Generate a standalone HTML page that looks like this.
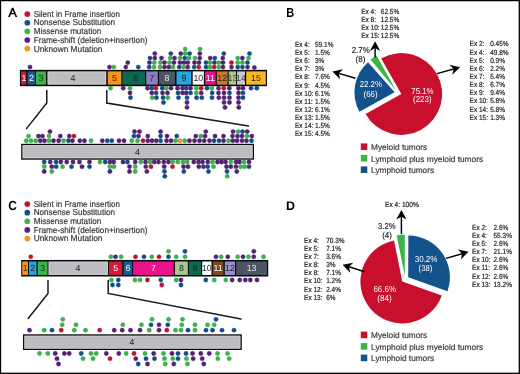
<!DOCTYPE html>
<html><head><meta charset="utf-8"><style>
html,body{margin:0;padding:0;background:#fff;}
body{width:520px;height:374px;overflow:hidden;font-family:"Liberation Sans", sans-serif;}
svg{display:block;font-family:"Liberation Sans", sans-serif;will-change:transform;text-rendering:geometricPrecision;}
</style></head><body>
<svg width="520" height="374" viewBox="0 0 520 374">
<rect width="520" height="374" fill="#fff"/>
<rect x="0.5" y="0.6" width="518.8" height="372.7" fill="none" stroke="#000" stroke-width="1.3"/>
<path d="M8.1,16.95 L11.9,7.85 L13.4,7.85 L17.2,16.95 L15.55,16.95 L14.44,14.3 L10.86,14.3 L9.75,16.95 Z M11.44,12.9 L13.86,12.9 L12.65,10.0 Z" fill="#000" fill-rule="evenodd"/>
<text x="286.3" y="16.55" font-size="13.0" fill="#000" text-anchor="start" font-weight="bold" textLength="8.0" lengthAdjust="spacingAndGlyphs">B</text>
<text x="8.2" y="210.1" font-size="13.2" fill="#000" text-anchor="start" font-weight="bold" textLength="8.6" lengthAdjust="spacingAndGlyphs">C</text>
<text x="286.0" y="210.0" font-size="12.5" fill="#000" text-anchor="start" font-weight="bold" textLength="9.0" lengthAdjust="spacingAndGlyphs">D</text>
<circle cx="27.3" cy="14.10" r="2.85" fill="#c8102e"/>
<text x="33.7" y="16.65" font-size="8.6" fill="#3a3a3c" text-anchor="start" font-weight="normal" stroke="#3a3a3c" stroke-width="0.2" textLength="86.3" lengthAdjust="spacingAndGlyphs">Silent in Frame insertion</text>
<circle cx="27.3" cy="22.73" r="2.85" fill="#0e4f8c"/>
<text x="33.7" y="25.37" font-size="8.6" fill="#3a3a3c" text-anchor="start" font-weight="normal" stroke="#3a3a3c" stroke-width="0.2" textLength="81.3" lengthAdjust="spacingAndGlyphs">Nonsense Substitution</text>
<circle cx="27.3" cy="31.36" r="2.85" fill="#39b54a"/>
<text x="33.7" y="34.09" font-size="8.6" fill="#3a3a3c" text-anchor="start" font-weight="normal" stroke="#3a3a3c" stroke-width="0.2" textLength="67.5" lengthAdjust="spacingAndGlyphs">Missense mutation</text>
<circle cx="27.3" cy="39.99" r="2.85" fill="#56207a"/>
<text x="33.7" y="42.81" font-size="8.6" fill="#3a3a3c" text-anchor="start" font-weight="normal" stroke="#3a3a3c" stroke-width="0.2" textLength="113.8" lengthAdjust="spacingAndGlyphs">Frame-shift (deletion+insertion)</text>
<circle cx="27.3" cy="48.62" r="2.85" fill="#f7941d"/>
<text x="33.7" y="51.53" font-size="8.6" fill="#3a3a3c" text-anchor="start" font-weight="normal" stroke="#3a3a3c" stroke-width="0.2" textLength="68.8" lengthAdjust="spacingAndGlyphs">Unknown Mutation</text>
<circle cx="27.3" cy="204.00" r="2.85" fill="#c8102e"/>
<text x="33.7" y="206.55" font-size="8.6" fill="#3a3a3c" text-anchor="start" font-weight="normal" stroke="#3a3a3c" stroke-width="0.2" textLength="86.3" lengthAdjust="spacingAndGlyphs">Silent in Frame insertion</text>
<circle cx="27.3" cy="212.63" r="2.85" fill="#0e4f8c"/>
<text x="33.7" y="215.27" font-size="8.6" fill="#3a3a3c" text-anchor="start" font-weight="normal" stroke="#3a3a3c" stroke-width="0.2" textLength="81.3" lengthAdjust="spacingAndGlyphs">Nonsense Substitution</text>
<circle cx="27.3" cy="221.26" r="2.85" fill="#39b54a"/>
<text x="33.7" y="223.99" font-size="8.6" fill="#3a3a3c" text-anchor="start" font-weight="normal" stroke="#3a3a3c" stroke-width="0.2" textLength="67.5" lengthAdjust="spacingAndGlyphs">Missense mutation</text>
<circle cx="27.3" cy="229.89" r="2.85" fill="#56207a"/>
<text x="33.7" y="232.71" font-size="8.6" fill="#3a3a3c" text-anchor="start" font-weight="normal" stroke="#3a3a3c" stroke-width="0.2" textLength="113.8" lengthAdjust="spacingAndGlyphs">Frame-shift (deletion+insertion)</text>
<circle cx="27.3" cy="238.52" r="2.85" fill="#f7941d"/>
<text x="33.7" y="241.43" font-size="8.6" fill="#3a3a3c" text-anchor="start" font-weight="normal" stroke="#3a3a3c" stroke-width="0.2" textLength="68.8" lengthAdjust="spacingAndGlyphs">Unknown Mutation</text>
<rect x="19.9" y="69.85" width="247.10" height="16.35" fill="#0a0a0a"/>
<rect x="21.0" y="71.40" width="5.20" height="13.25" fill="#d2193a"/>
<rect x="27.5" y="71.40" width="7.80" height="13.25" fill="#1b5a96"/>
<rect x="36.0" y="71.40" width="10.00" height="13.25" fill="#3cb64b"/>
<rect x="47.5" y="71.40" width="58.80" height="13.25" fill="#bdbdc1"/>
<rect x="48.10" y="72.05" width="57.60" height="11.95" fill="none" stroke="#d6d6da" stroke-width="0.6"/>
<rect x="107.8" y="71.40" width="13.50" height="13.25" fill="#f7941d"/>
<rect x="122.4" y="71.40" width="22.60" height="13.25" fill="#0b6b52"/>
<rect x="146.2" y="71.40" width="11.60" height="13.25" fill="#8a80c0"/>
<rect x="159.0" y="71.40" width="16.00" height="13.25" fill="#4b5665"/>
<rect x="176.5" y="71.40" width="14.80" height="13.25" fill="#27a5df"/>
<rect x="192.7" y="71.40" width="11.10" height="13.25" fill="#ffffff"/>
<rect x="205.0" y="71.40" width="10.70" height="13.25" fill="#ec118c"/>
<rect x="216.8" y="71.40" width="10.80" height="13.25" fill="#c77a2c"/>
<rect x="228.7" y="71.40" width="7.30" height="13.25" fill="#a7c98f"/>
<rect x="237.1" y="71.40" width="7.90" height="13.25" fill="#c9c9cc"/>
<rect x="246.2" y="71.40" width="19.60" height="13.25" fill="#f9b821"/>
<text x="24" y="81.12" font-size="8.8" fill="#fff" text-anchor="middle" font-weight="normal">1</text>
<text x="31.4" y="81.12" font-size="8.8" fill="#fff" text-anchor="middle" font-weight="normal">2</text>
<text x="41" y="81.12" font-size="8.8" fill="#231f20" text-anchor="middle" font-weight="normal">3</text>
<text x="73" y="81.12" font-size="8.8" fill="#231f20" text-anchor="middle" font-weight="normal">4</text>
<text x="114.5" y="81.12" font-size="8.8" fill="#231f20" text-anchor="middle" font-weight="normal">5</text>
<text x="136" y="81.12" font-size="8.8" fill="#231f20" text-anchor="middle" font-weight="normal">6</text>
<text x="152" y="81.12" font-size="8.8" fill="#231f20" text-anchor="middle" font-weight="normal">7</text>
<text x="167" y="81.12" font-size="8.8" fill="#e6e6e6" text-anchor="middle" font-weight="normal">8</text>
<text x="184" y="81.12" font-size="8.8" fill="#231f20" text-anchor="middle" font-weight="normal">9</text>
<text x="198.3" y="81.12" font-size="8.8" fill="#231f20" text-anchor="middle" font-weight="normal">10</text>
<text x="210.4" y="81.12" font-size="8.8" fill="#fff" text-anchor="middle" font-weight="normal">11</text>
<text x="222.2" y="81.12" font-size="8.8" fill="#231f20" text-anchor="middle" font-weight="normal">12</text>
<text x="232.4" y="81.12" font-size="8.8" fill="#444" text-anchor="middle" font-weight="normal">13</text>
<text x="241" y="81.12" font-size="8.8" fill="#444" text-anchor="middle" font-weight="normal">14</text>
<text x="256" y="81.12" font-size="8.8" fill="#231f20" text-anchor="middle" font-weight="normal">15</text>
<rect x="21.2" y="259.95" width="247.00" height="16.55" fill="#0a0a0a"/>
<rect x="22.2" y="261.50" width="5.80" height="13.45" fill="#f7941d"/>
<rect x="29.0" y="261.50" width="7.50" height="13.45" fill="#27a5df"/>
<rect x="37.8" y="261.50" width="9.70" height="13.45" fill="#3cb64b"/>
<rect x="48.5" y="261.50" width="59.50" height="13.45" fill="#bdbdc1"/>
<rect x="49.10" y="262.15" width="58.30" height="12.15" fill="none" stroke="#d6d6da" stroke-width="0.6"/>
<rect x="109.0" y="261.50" width="13.20" height="13.45" fill="#d2193a"/>
<rect x="123.5" y="261.50" width="8.70" height="13.45" fill="#1b5a96"/>
<rect x="133.2" y="261.50" width="40.60" height="13.45" fill="#ec118c"/>
<rect x="175.0" y="261.50" width="12.80" height="13.45" fill="#a7c98f"/>
<rect x="188.8" y="261.50" width="12.20" height="13.45" fill="#0b6b52"/>
<rect x="202.2" y="261.50" width="9.30" height="13.45" fill="#ffffff"/>
<rect x="212.8" y="261.50" width="10.70" height="13.45" fill="#7b4b1f"/>
<rect x="224.8" y="261.50" width="10.20" height="13.45" fill="#9a8fd2"/>
<rect x="236.2" y="261.50" width="30.80" height="13.45" fill="#4b5665"/>
<text x="25.1" y="271.33" font-size="8.8" fill="#231f20" text-anchor="middle" font-weight="normal">1</text>
<text x="32.7" y="271.33" font-size="8.8" fill="#231f20" text-anchor="middle" font-weight="normal">2</text>
<text x="42.6" y="271.33" font-size="8.8" fill="#231f20" text-anchor="middle" font-weight="normal">3</text>
<text x="78" y="271.33" font-size="8.8" fill="#231f20" text-anchor="middle" font-weight="normal">4</text>
<text x="115.6" y="271.33" font-size="8.8" fill="#fff" text-anchor="middle" font-weight="normal">5</text>
<text x="127.9" y="271.33" font-size="8.8" fill="#fff" text-anchor="middle" font-weight="normal">6</text>
<text x="153.5" y="271.33" font-size="8.8" fill="#fff" text-anchor="middle" font-weight="normal">7</text>
<text x="181.4" y="271.33" font-size="8.8" fill="#231f20" text-anchor="middle" font-weight="normal">8</text>
<text x="195" y="271.33" font-size="8.8" fill="#231f20" text-anchor="middle" font-weight="normal">9</text>
<text x="206.8" y="271.33" font-size="8.8" fill="#231f20" text-anchor="middle" font-weight="normal">10</text>
<text x="218.1" y="271.33" font-size="8.8" fill="#fff" text-anchor="middle" font-weight="normal">11</text>
<text x="229.9" y="271.33" font-size="8.8" fill="#231f20" text-anchor="middle" font-weight="normal">12</text>
<text x="251.6" y="271.33" font-size="8.8" fill="#e6e6e6" text-anchor="middle" font-weight="normal">13</text>
<rect x="21.90" y="144.50" width="231.40" height="14.50" fill="#bdbdc1" stroke="#0a0a0a" stroke-width="1.4"/>
<rect x="23.05" y="145.65" width="229.10" height="12.20" fill="none" stroke="#d6d6da" stroke-width="0.7"/>
<text x="137.5" y="154.85" font-size="8.6" fill="#231f20" text-anchor="middle" font-weight="normal">4</text>
<rect x="23.70" y="335.00" width="217.40" height="14.30" fill="#bdbdc1" stroke="#0a0a0a" stroke-width="1.4"/>
<rect x="24.85" y="336.15" width="215.10" height="12.00" fill="none" stroke="#d6d6da" stroke-width="0.7"/>
<text x="132.0" y="345.25" font-size="8.6" fill="#231f20" text-anchor="middle" font-weight="normal">4</text>
<polyline points="46.8,90.4 46.8,103 26.5,128.6" fill="none" stroke="#1a1a1a" stroke-width="1.5" stroke-linecap="round"/>
<polyline points="106.8,90.4 106.8,103 248.5,126.1" fill="none" stroke="#1a1a1a" stroke-width="1.5" stroke-linecap="round"/>
<polyline points="48.0,280.4 48.0,293.5 28.2,318.5" fill="none" stroke="#1a1a1a" stroke-width="1.5" stroke-linecap="round"/>
<polyline points="108.2,280.4 108.2,293.5 241,319" fill="none" stroke="#1a1a1a" stroke-width="1.5" stroke-linecap="round"/>
<circle cx="30" cy="67.1" r="2.15" fill="#56207a" stroke="#3a1054" stroke-width="0.35"/>
<circle cx="109.5" cy="67.1" r="2.15" fill="#56207a" stroke="#3a1054" stroke-width="0.35"/>
<circle cx="113.8" cy="67.1" r="2.15" fill="#39b54a" stroke="#268f36" stroke-width="0.35"/>
<circle cx="125.8" cy="67.1" r="2.15" fill="#56207a" stroke="#3a1054" stroke-width="0.35"/>
<circle cx="127.8" cy="62.6" r="2.15" fill="#56207a" stroke="#3a1054" stroke-width="0.35"/>
<circle cx="138.3" cy="67.1" r="2.15" fill="#0e4f8c" stroke="#093c6c" stroke-width="0.35"/>
<circle cx="149.2" cy="67.1" r="2.15" fill="#0e4f8c" stroke="#093c6c" stroke-width="0.35"/>
<circle cx="154" cy="67.1" r="2.15" fill="#39b54a" stroke="#268f36" stroke-width="0.35"/>
<circle cx="160" cy="67.1" r="2.15" fill="#39b54a" stroke="#268f36" stroke-width="0.35"/>
<circle cx="164.5" cy="67.1" r="2.15" fill="#56207a" stroke="#3a1054" stroke-width="0.35"/>
<circle cx="168.8" cy="67.1" r="2.15" fill="#56207a" stroke="#3a1054" stroke-width="0.35"/>
<circle cx="173" cy="67.1" r="2.15" fill="#39b54a" stroke="#268f36" stroke-width="0.35"/>
<circle cx="179.2" cy="67.1" r="2.15" fill="#0e4f8c" stroke="#093c6c" stroke-width="0.35"/>
<circle cx="183.5" cy="67.1" r="2.15" fill="#39b54a" stroke="#268f36" stroke-width="0.35"/>
<circle cx="187.8" cy="67.1" r="2.15" fill="#56207a" stroke="#3a1054" stroke-width="0.35"/>
<circle cx="149.5" cy="62.6" r="2.15" fill="#56207a" stroke="#3a1054" stroke-width="0.35"/>
<circle cx="154.3" cy="62.6" r="2.15" fill="#39b54a" stroke="#268f36" stroke-width="0.35"/>
<circle cx="160.5" cy="62.6" r="2.15" fill="#39b54a" stroke="#268f36" stroke-width="0.35"/>
<circle cx="164.5" cy="62.6" r="2.15" fill="#56207a" stroke="#3a1054" stroke-width="0.35"/>
<circle cx="169.5" cy="62.6" r="2.15" fill="#39b54a" stroke="#268f36" stroke-width="0.35"/>
<circle cx="174" cy="62.6" r="2.15" fill="#56207a" stroke="#3a1054" stroke-width="0.35"/>
<circle cx="180" cy="62.6" r="2.15" fill="#56207a" stroke="#3a1054" stroke-width="0.35"/>
<circle cx="184" cy="62.6" r="2.15" fill="#56207a" stroke="#3a1054" stroke-width="0.35"/>
<circle cx="187.8" cy="62.6" r="2.15" fill="#56207a" stroke="#3a1054" stroke-width="0.35"/>
<circle cx="150" cy="58.1" r="2.15" fill="#0e4f8c" stroke="#093c6c" stroke-width="0.35"/>
<circle cx="154.8" cy="58.1" r="2.15" fill="#56207a" stroke="#3a1054" stroke-width="0.35"/>
<circle cx="161.5" cy="58.1" r="2.15" fill="#56207a" stroke="#3a1054" stroke-width="0.35"/>
<circle cx="170.2" cy="58.1" r="2.15" fill="#39b54a" stroke="#268f36" stroke-width="0.35"/>
<circle cx="174.5" cy="58.1" r="2.15" fill="#56207a" stroke="#3a1054" stroke-width="0.35"/>
<circle cx="180" cy="58.1" r="2.15" fill="#39b54a" stroke="#268f36" stroke-width="0.35"/>
<circle cx="184.8" cy="58.1" r="2.15" fill="#0e4f8c" stroke="#093c6c" stroke-width="0.35"/>
<circle cx="189" cy="58.1" r="2.15" fill="#39b54a" stroke="#268f36" stroke-width="0.35"/>
<circle cx="154.8" cy="53.6" r="2.15" fill="#56207a" stroke="#3a1054" stroke-width="0.35"/>
<circle cx="170.8" cy="53.6" r="2.15" fill="#0e4f8c" stroke="#093c6c" stroke-width="0.35"/>
<circle cx="180.8" cy="53.6" r="2.15" fill="#56207a" stroke="#3a1054" stroke-width="0.35"/>
<circle cx="185.2" cy="53.6" r="2.15" fill="#39b54a" stroke="#268f36" stroke-width="0.35"/>
<circle cx="189.6" cy="53.6" r="2.15" fill="#0e4f8c" stroke="#093c6c" stroke-width="0.35"/>
<circle cx="185.2" cy="49.1" r="2.15" fill="#39b54a" stroke="#268f36" stroke-width="0.35"/>
<circle cx="194.2" cy="67.1" r="2.15" fill="#0e4f8c" stroke="#093c6c" stroke-width="0.35"/>
<circle cx="198.8" cy="67.1" r="2.15" fill="#c8102e" stroke="#900a22" stroke-width="0.35"/>
<circle cx="206" cy="67.1" r="2.15" fill="#0e4f8c" stroke="#093c6c" stroke-width="0.35"/>
<circle cx="210" cy="67.1" r="2.15" fill="#39b54a" stroke="#268f36" stroke-width="0.35"/>
<circle cx="214.2" cy="67.1" r="2.15" fill="#c8102e" stroke="#900a22" stroke-width="0.35"/>
<circle cx="218.8" cy="67.1" r="2.15" fill="#39b54a" stroke="#268f36" stroke-width="0.35"/>
<circle cx="223" cy="67.1" r="2.15" fill="#56207a" stroke="#3a1054" stroke-width="0.35"/>
<circle cx="231.5" cy="67.1" r="2.15" fill="#56207a" stroke="#3a1054" stroke-width="0.35"/>
<circle cx="237.7" cy="67.1" r="2.15" fill="#0e4f8c" stroke="#093c6c" stroke-width="0.35"/>
<circle cx="194.5" cy="62.6" r="2.15" fill="#56207a" stroke="#3a1054" stroke-width="0.35"/>
<circle cx="199" cy="62.6" r="2.15" fill="#56207a" stroke="#3a1054" stroke-width="0.35"/>
<circle cx="206" cy="62.6" r="2.15" fill="#0e4f8c" stroke="#093c6c" stroke-width="0.35"/>
<circle cx="210" cy="62.6" r="2.15" fill="#39b54a" stroke="#268f36" stroke-width="0.35"/>
<circle cx="214.5" cy="62.6" r="2.15" fill="#56207a" stroke="#3a1054" stroke-width="0.35"/>
<circle cx="218.8" cy="62.6" r="2.15" fill="#39b54a" stroke="#268f36" stroke-width="0.35"/>
<circle cx="223" cy="62.6" r="2.15" fill="#56207a" stroke="#3a1054" stroke-width="0.35"/>
<circle cx="231.5" cy="62.6" r="2.15" fill="#c8102e" stroke="#900a22" stroke-width="0.35"/>
<circle cx="237.7" cy="62.6" r="2.15" fill="#39b54a" stroke="#268f36" stroke-width="0.35"/>
<circle cx="195" cy="58.1" r="2.15" fill="#39b54a" stroke="#268f36" stroke-width="0.35"/>
<circle cx="199.8" cy="58.1" r="2.15" fill="#56207a" stroke="#3a1054" stroke-width="0.35"/>
<circle cx="210.2" cy="58.1" r="2.15" fill="#56207a" stroke="#3a1054" stroke-width="0.35"/>
<circle cx="214.8" cy="58.1" r="2.15" fill="#0e4f8c" stroke="#093c6c" stroke-width="0.35"/>
<circle cx="222.8" cy="58.1" r="2.15" fill="#56207a" stroke="#3a1054" stroke-width="0.35"/>
<circle cx="237.7" cy="58.1" r="2.15" fill="#39b54a" stroke="#268f36" stroke-width="0.35"/>
<circle cx="199.8" cy="53.6" r="2.15" fill="#56207a" stroke="#3a1054" stroke-width="0.35"/>
<circle cx="223.8" cy="53.6" r="2.15" fill="#0e4f8c" stroke="#093c6c" stroke-width="0.35"/>
<circle cx="200" cy="49.1" r="2.15" fill="#39b54a" stroke="#268f36" stroke-width="0.35"/>
<circle cx="242.4" cy="67.1" r="2.15" fill="#0e4f8c" stroke="#093c6c" stroke-width="0.35"/>
<circle cx="247.5" cy="67.1" r="2.15" fill="#56207a" stroke="#3a1054" stroke-width="0.35"/>
<circle cx="242.4" cy="62.6" r="2.15" fill="#39b54a" stroke="#268f36" stroke-width="0.35"/>
<circle cx="247.5" cy="62.6" r="2.15" fill="#0e4f8c" stroke="#093c6c" stroke-width="0.35"/>
<circle cx="242.4" cy="58.1" r="2.15" fill="#56207a" stroke="#3a1054" stroke-width="0.35"/>
<circle cx="248.6" cy="58.1" r="2.15" fill="#39b54a" stroke="#268f36" stroke-width="0.35"/>
<circle cx="249.5" cy="53.6" r="2.15" fill="#0e4f8c" stroke="#093c6c" stroke-width="0.35"/>
<circle cx="254.4" cy="67.6" r="2.15" fill="#56207a" stroke="#3a1054" stroke-width="0.35"/>
<circle cx="110.5" cy="88.2" r="2.15" fill="#39b54a" stroke="#268f36" stroke-width="0.35"/>
<circle cx="123.2" cy="88.2" r="2.15" fill="#56207a" stroke="#3a1054" stroke-width="0.35"/>
<circle cx="130" cy="88.2" r="2.15" fill="#39b54a" stroke="#268f36" stroke-width="0.35"/>
<circle cx="130" cy="92.9" r="2.15" fill="#56207a" stroke="#3a1054" stroke-width="0.35"/>
<circle cx="130.5" cy="97.7" r="2.15" fill="#0e4f8c" stroke="#093c6c" stroke-width="0.35"/>
<circle cx="147.5" cy="88.2" r="2.15" fill="#56207a" stroke="#3a1054" stroke-width="0.35"/>
<circle cx="151.8" cy="88.2" r="2.15" fill="#0e4f8c" stroke="#093c6c" stroke-width="0.35"/>
<circle cx="156" cy="88.2" r="2.15" fill="#c8102e" stroke="#900a22" stroke-width="0.35"/>
<circle cx="162.2" cy="88.2" r="2.15" fill="#0e4f8c" stroke="#093c6c" stroke-width="0.35"/>
<circle cx="166.2" cy="88.2" r="2.15" fill="#39b54a" stroke="#268f36" stroke-width="0.35"/>
<circle cx="171" cy="88.2" r="2.15" fill="#56207a" stroke="#3a1054" stroke-width="0.35"/>
<circle cx="177.5" cy="88.2" r="2.15" fill="#56207a" stroke="#3a1054" stroke-width="0.35"/>
<circle cx="182.5" cy="88.2" r="2.15" fill="#56207a" stroke="#3a1054" stroke-width="0.35"/>
<circle cx="186.2" cy="88.2" r="2.15" fill="#0e4f8c" stroke="#093c6c" stroke-width="0.35"/>
<circle cx="190.5" cy="88.2" r="2.15" fill="#56207a" stroke="#3a1054" stroke-width="0.35"/>
<circle cx="196.3" cy="88.2" r="2.15" fill="#39b54a" stroke="#268f36" stroke-width="0.35"/>
<circle cx="151.8" cy="92.9" r="2.15" fill="#56207a" stroke="#3a1054" stroke-width="0.35"/>
<circle cx="156.2" cy="92.9" r="2.15" fill="#0e4f8c" stroke="#093c6c" stroke-width="0.35"/>
<circle cx="162.5" cy="92.9" r="2.15" fill="#56207a" stroke="#3a1054" stroke-width="0.35"/>
<circle cx="167.5" cy="92.9" r="2.15" fill="#56207a" stroke="#3a1054" stroke-width="0.35"/>
<circle cx="178" cy="92.9" r="2.15" fill="#0e4f8c" stroke="#093c6c" stroke-width="0.35"/>
<circle cx="182.5" cy="92.9" r="2.15" fill="#56207a" stroke="#3a1054" stroke-width="0.35"/>
<circle cx="186.2" cy="92.9" r="2.15" fill="#56207a" stroke="#3a1054" stroke-width="0.35"/>
<circle cx="190.5" cy="92.9" r="2.15" fill="#0e4f8c" stroke="#093c6c" stroke-width="0.35"/>
<circle cx="196.3" cy="92.9" r="2.15" fill="#39b54a" stroke="#268f36" stroke-width="0.35"/>
<circle cx="152.2" cy="97.7" r="2.15" fill="#39b54a" stroke="#268f36" stroke-width="0.35"/>
<circle cx="156.5" cy="97.7" r="2.15" fill="#0e4f8c" stroke="#093c6c" stroke-width="0.35"/>
<circle cx="163" cy="97.7" r="2.15" fill="#0e4f8c" stroke="#093c6c" stroke-width="0.35"/>
<circle cx="167.8" cy="97.7" r="2.15" fill="#39b54a" stroke="#268f36" stroke-width="0.35"/>
<circle cx="178.5" cy="97.7" r="2.15" fill="#0e4f8c" stroke="#093c6c" stroke-width="0.35"/>
<circle cx="187" cy="97.7" r="2.15" fill="#0e4f8c" stroke="#093c6c" stroke-width="0.35"/>
<circle cx="196.6" cy="97.7" r="2.15" fill="#0e4f8c" stroke="#093c6c" stroke-width="0.35"/>
<circle cx="163.5" cy="102.5" r="2.15" fill="#0e4f8c" stroke="#093c6c" stroke-width="0.35"/>
<circle cx="187" cy="102.5" r="2.15" fill="#56207a" stroke="#3a1054" stroke-width="0.35"/>
<circle cx="187" cy="107.4" r="2.15" fill="#56207a" stroke="#3a1054" stroke-width="0.35"/>
<circle cx="201.2" cy="88.2" r="2.15" fill="#c8102e" stroke="#900a22" stroke-width="0.35"/>
<circle cx="207" cy="88.2" r="2.15" fill="#0e4f8c" stroke="#093c6c" stroke-width="0.35"/>
<circle cx="211.8" cy="88.2" r="2.15" fill="#39b54a" stroke="#268f36" stroke-width="0.35"/>
<circle cx="218.5" cy="88.2" r="2.15" fill="#56207a" stroke="#3a1054" stroke-width="0.35"/>
<circle cx="223.8" cy="88.2" r="2.15" fill="#c8102e" stroke="#900a22" stroke-width="0.35"/>
<circle cx="229.3" cy="88.2" r="2.15" fill="#56207a" stroke="#3a1054" stroke-width="0.35"/>
<circle cx="238.5" cy="88.2" r="2.15" fill="#56207a" stroke="#3a1054" stroke-width="0.35"/>
<circle cx="243" cy="88.2" r="2.15" fill="#56207a" stroke="#3a1054" stroke-width="0.35"/>
<circle cx="251" cy="88.2" r="2.15" fill="#0e4f8c" stroke="#093c6c" stroke-width="0.35"/>
<circle cx="256.8" cy="88.2" r="2.15" fill="#0e4f8c" stroke="#093c6c" stroke-width="0.35"/>
<circle cx="201.2" cy="92.9" r="2.15" fill="#56207a" stroke="#3a1054" stroke-width="0.35"/>
<circle cx="212.2" cy="92.9" r="2.15" fill="#0e4f8c" stroke="#093c6c" stroke-width="0.35"/>
<circle cx="218.5" cy="92.9" r="2.15" fill="#56207a" stroke="#3a1054" stroke-width="0.35"/>
<circle cx="224" cy="92.9" r="2.15" fill="#56207a" stroke="#3a1054" stroke-width="0.35"/>
<circle cx="229.5" cy="92.9" r="2.15" fill="#0e4f8c" stroke="#093c6c" stroke-width="0.35"/>
<circle cx="238.5" cy="92.9" r="2.15" fill="#56207a" stroke="#3a1054" stroke-width="0.35"/>
<circle cx="243" cy="92.9" r="2.15" fill="#0e4f8c" stroke="#093c6c" stroke-width="0.35"/>
<circle cx="201.8" cy="97.7" r="2.15" fill="#0e4f8c" stroke="#093c6c" stroke-width="0.35"/>
<circle cx="212" cy="97.7" r="2.15" fill="#0e4f8c" stroke="#093c6c" stroke-width="0.35"/>
<circle cx="218.8" cy="97.7" r="2.15" fill="#56207a" stroke="#3a1054" stroke-width="0.35"/>
<circle cx="224" cy="97.7" r="2.15" fill="#56207a" stroke="#3a1054" stroke-width="0.35"/>
<circle cx="229.5" cy="97.7" r="2.15" fill="#56207a" stroke="#3a1054" stroke-width="0.35"/>
<circle cx="238.5" cy="97.7" r="2.15" fill="#56207a" stroke="#3a1054" stroke-width="0.35"/>
<circle cx="243" cy="97.7" r="2.15" fill="#0e4f8c" stroke="#093c6c" stroke-width="0.35"/>
<circle cx="224" cy="102.5" r="2.15" fill="#56207a" stroke="#3a1054" stroke-width="0.35"/>
<circle cx="229.5" cy="102.5" r="2.15" fill="#56207a" stroke="#3a1054" stroke-width="0.35"/>
<circle cx="238.5" cy="102.5" r="2.15" fill="#56207a" stroke="#3a1054" stroke-width="0.35"/>
<circle cx="225" cy="107.4" r="2.15" fill="#56207a" stroke="#3a1054" stroke-width="0.35"/>
<circle cx="238.8" cy="107.4" r="2.15" fill="#56207a" stroke="#3a1054" stroke-width="0.35"/>
<circle cx="26.3" cy="140.75" r="2.15" fill="#39b54a" stroke="#268f36" stroke-width="0.35"/>
<circle cx="31" cy="140.75" r="2.15" fill="#39b54a" stroke="#268f36" stroke-width="0.35"/>
<circle cx="35.8" cy="140.75" r="2.15" fill="#39b54a" stroke="#268f36" stroke-width="0.35"/>
<circle cx="40.3" cy="140.75" r="2.15" fill="#56207a" stroke="#3a1054" stroke-width="0.35"/>
<circle cx="44.5" cy="140.75" r="2.15" fill="#56207a" stroke="#3a1054" stroke-width="0.35"/>
<circle cx="49" cy="140.75" r="2.15" fill="#39b54a" stroke="#268f36" stroke-width="0.35"/>
<circle cx="53.5" cy="140.75" r="2.15" fill="#56207a" stroke="#3a1054" stroke-width="0.35"/>
<circle cx="58.7" cy="140.75" r="2.15" fill="#56207a" stroke="#3a1054" stroke-width="0.35"/>
<circle cx="63.6" cy="140.75" r="2.15" fill="#39b54a" stroke="#268f36" stroke-width="0.35"/>
<circle cx="28.5" cy="136.1" r="2.15" fill="#39b54a" stroke="#268f36" stroke-width="0.35"/>
<circle cx="38.5" cy="136.1" r="2.15" fill="#56207a" stroke="#3a1054" stroke-width="0.35"/>
<circle cx="42.5" cy="136.1" r="2.15" fill="#56207a" stroke="#3a1054" stroke-width="0.35"/>
<circle cx="49" cy="136.1" r="2.15" fill="#39b54a" stroke="#268f36" stroke-width="0.35"/>
<circle cx="60.3" cy="136.1" r="2.15" fill="#56207a" stroke="#3a1054" stroke-width="0.35"/>
<circle cx="50" cy="131.6" r="2.15" fill="#56207a" stroke="#3a1054" stroke-width="0.35"/>
<circle cx="68.5" cy="140.75" r="2.15" fill="#0e4f8c" stroke="#093c6c" stroke-width="0.35"/>
<circle cx="72.5" cy="140.75" r="2.15" fill="#56207a" stroke="#3a1054" stroke-width="0.35"/>
<circle cx="79.8" cy="140.75" r="2.15" fill="#56207a" stroke="#3a1054" stroke-width="0.35"/>
<circle cx="84.5" cy="140.75" r="2.15" fill="#56207a" stroke="#3a1054" stroke-width="0.35"/>
<circle cx="91" cy="140.75" r="2.15" fill="#39b54a" stroke="#268f36" stroke-width="0.35"/>
<circle cx="102.3" cy="140.75" r="2.15" fill="#56207a" stroke="#3a1054" stroke-width="0.35"/>
<circle cx="107.3" cy="140.75" r="2.15" fill="#0e4f8c" stroke="#093c6c" stroke-width="0.35"/>
<circle cx="111.8" cy="140.75" r="2.15" fill="#0e4f8c" stroke="#093c6c" stroke-width="0.35"/>
<circle cx="69.3" cy="136.1" r="2.15" fill="#56207a" stroke="#3a1054" stroke-width="0.35"/>
<circle cx="74" cy="136.1" r="2.15" fill="#c8102e" stroke="#900a22" stroke-width="0.35"/>
<circle cx="119" cy="140.75" r="2.15" fill="#56207a" stroke="#3a1054" stroke-width="0.35"/>
<circle cx="124" cy="140.75" r="2.15" fill="#56207a" stroke="#3a1054" stroke-width="0.35"/>
<circle cx="131.8" cy="140.75" r="2.15" fill="#39b54a" stroke="#268f36" stroke-width="0.35"/>
<circle cx="137.5" cy="140.75" r="2.15" fill="#39b54a" stroke="#268f36" stroke-width="0.35"/>
<circle cx="143" cy="140.75" r="2.15" fill="#c8102e" stroke="#900a22" stroke-width="0.35"/>
<circle cx="147.8" cy="140.75" r="2.15" fill="#56207a" stroke="#3a1054" stroke-width="0.35"/>
<circle cx="152" cy="140.75" r="2.15" fill="#56207a" stroke="#3a1054" stroke-width="0.35"/>
<circle cx="156.3" cy="140.75" r="2.15" fill="#56207a" stroke="#3a1054" stroke-width="0.35"/>
<circle cx="160.6" cy="140.75" r="2.15" fill="#0e4f8c" stroke="#093c6c" stroke-width="0.35"/>
<circle cx="134" cy="136.1" r="2.15" fill="#0e4f8c" stroke="#093c6c" stroke-width="0.35"/>
<circle cx="138.5" cy="136.1" r="2.15" fill="#56207a" stroke="#3a1054" stroke-width="0.35"/>
<circle cx="147.8" cy="136.1" r="2.15" fill="#56207a" stroke="#3a1054" stroke-width="0.35"/>
<circle cx="160.6" cy="136.1" r="2.15" fill="#0e4f8c" stroke="#093c6c" stroke-width="0.35"/>
<circle cx="134.5" cy="131.6" r="2.15" fill="#56207a" stroke="#3a1054" stroke-width="0.35"/>
<circle cx="139.5" cy="131.6" r="2.15" fill="#56207a" stroke="#3a1054" stroke-width="0.35"/>
<circle cx="160.6" cy="131.6" r="2.15" fill="#56207a" stroke="#3a1054" stroke-width="0.35"/>
<circle cx="166.5" cy="140.75" r="2.15" fill="#56207a" stroke="#3a1054" stroke-width="0.35"/>
<circle cx="171" cy="140.75" r="2.15" fill="#56207a" stroke="#3a1054" stroke-width="0.35"/>
<circle cx="175.5" cy="140.75" r="2.15" fill="#39b54a" stroke="#268f36" stroke-width="0.35"/>
<circle cx="180" cy="140.75" r="2.15" fill="#f7941d" stroke="#c46e12" stroke-width="0.35"/>
<circle cx="184.8" cy="140.75" r="2.15" fill="#39b54a" stroke="#268f36" stroke-width="0.35"/>
<circle cx="189.5" cy="140.75" r="2.15" fill="#56207a" stroke="#3a1054" stroke-width="0.35"/>
<circle cx="194.5" cy="140.75" r="2.15" fill="#56207a" stroke="#3a1054" stroke-width="0.35"/>
<circle cx="199.5" cy="140.75" r="2.15" fill="#56207a" stroke="#3a1054" stroke-width="0.35"/>
<circle cx="204.2" cy="140.75" r="2.15" fill="#56207a" stroke="#3a1054" stroke-width="0.35"/>
<circle cx="167" cy="136.1" r="2.15" fill="#56207a" stroke="#3a1054" stroke-width="0.35"/>
<circle cx="176.8" cy="136.1" r="2.15" fill="#0e4f8c" stroke="#093c6c" stroke-width="0.35"/>
<circle cx="195.8" cy="136.1" r="2.15" fill="#56207a" stroke="#3a1054" stroke-width="0.35"/>
<circle cx="200.8" cy="136.1" r="2.15" fill="#39b54a" stroke="#268f36" stroke-width="0.35"/>
<circle cx="205.1" cy="136.1" r="2.15" fill="#56207a" stroke="#3a1054" stroke-width="0.35"/>
<circle cx="205.8" cy="131.6" r="2.15" fill="#56207a" stroke="#3a1054" stroke-width="0.35"/>
<circle cx="209.5" cy="140.75" r="2.15" fill="#56207a" stroke="#3a1054" stroke-width="0.35"/>
<circle cx="214" cy="140.75" r="2.15" fill="#0e4f8c" stroke="#093c6c" stroke-width="0.35"/>
<circle cx="219" cy="140.75" r="2.15" fill="#0e4f8c" stroke="#093c6c" stroke-width="0.35"/>
<circle cx="223.5" cy="140.75" r="2.15" fill="#56207a" stroke="#3a1054" stroke-width="0.35"/>
<circle cx="228.5" cy="140.75" r="2.15" fill="#39b54a" stroke="#268f36" stroke-width="0.35"/>
<circle cx="232.8" cy="140.75" r="2.15" fill="#56207a" stroke="#3a1054" stroke-width="0.35"/>
<circle cx="237" cy="140.75" r="2.15" fill="#56207a" stroke="#3a1054" stroke-width="0.35"/>
<circle cx="242" cy="140.75" r="2.15" fill="#56207a" stroke="#3a1054" stroke-width="0.35"/>
<circle cx="246.5" cy="140.75" r="2.15" fill="#56207a" stroke="#3a1054" stroke-width="0.35"/>
<circle cx="251.5" cy="140.75" r="2.15" fill="#0e4f8c" stroke="#093c6c" stroke-width="0.35"/>
<circle cx="215" cy="136.1" r="2.15" fill="#56207a" stroke="#3a1054" stroke-width="0.35"/>
<circle cx="223.5" cy="136.1" r="2.15" fill="#56207a" stroke="#3a1054" stroke-width="0.35"/>
<circle cx="232.5" cy="136.1" r="2.15" fill="#56207a" stroke="#3a1054" stroke-width="0.35"/>
<circle cx="237.5" cy="136.1" r="2.15" fill="#56207a" stroke="#3a1054" stroke-width="0.35"/>
<circle cx="242" cy="136.1" r="2.15" fill="#56207a" stroke="#3a1054" stroke-width="0.35"/>
<circle cx="247" cy="136.1" r="2.15" fill="#39b54a" stroke="#268f36" stroke-width="0.35"/>
<circle cx="251.8" cy="136.1" r="2.15" fill="#56207a" stroke="#3a1054" stroke-width="0.35"/>
<circle cx="233" cy="131.6" r="2.15" fill="#56207a" stroke="#3a1054" stroke-width="0.35"/>
<circle cx="238" cy="131.6" r="2.15" fill="#39b54a" stroke="#268f36" stroke-width="0.35"/>
<circle cx="242.5" cy="131.6" r="2.15" fill="#0e4f8c" stroke="#093c6c" stroke-width="0.35"/>
<circle cx="247.2" cy="131.6" r="2.15" fill="#56207a" stroke="#3a1054" stroke-width="0.35"/>
<circle cx="44.2" cy="162.0" r="2.15" fill="#0e4f8c" stroke="#093c6c" stroke-width="0.35"/>
<circle cx="50.2" cy="162.0" r="2.15" fill="#56207a" stroke="#3a1054" stroke-width="0.35"/>
<circle cx="56" cy="162.0" r="2.15" fill="#0e4f8c" stroke="#093c6c" stroke-width="0.35"/>
<circle cx="60.8" cy="162.0" r="2.15" fill="#56207a" stroke="#3a1054" stroke-width="0.35"/>
<circle cx="66.7" cy="162.0" r="2.15" fill="#56207a" stroke="#3a1054" stroke-width="0.35"/>
<circle cx="44.2" cy="166.7" r="2.15" fill="#39b54a" stroke="#268f36" stroke-width="0.35"/>
<circle cx="51.8" cy="166.7" r="2.15" fill="#56207a" stroke="#3a1054" stroke-width="0.35"/>
<circle cx="56.2" cy="166.7" r="2.15" fill="#0e4f8c" stroke="#093c6c" stroke-width="0.35"/>
<circle cx="62.6" cy="166.7" r="2.15" fill="#39b54a" stroke="#268f36" stroke-width="0.35"/>
<circle cx="44.2" cy="171.5" r="2.15" fill="#56207a" stroke="#3a1054" stroke-width="0.35"/>
<circle cx="51.8" cy="171.5" r="2.15" fill="#39b54a" stroke="#268f36" stroke-width="0.35"/>
<circle cx="73" cy="162.0" r="2.15" fill="#56207a" stroke="#3a1054" stroke-width="0.35"/>
<circle cx="79.5" cy="162.0" r="2.15" fill="#56207a" stroke="#3a1054" stroke-width="0.35"/>
<circle cx="89.5" cy="162.0" r="2.15" fill="#56207a" stroke="#3a1054" stroke-width="0.35"/>
<circle cx="100" cy="162.0" r="2.15" fill="#39b54a" stroke="#268f36" stroke-width="0.35"/>
<circle cx="105.2" cy="162.0" r="2.15" fill="#0e4f8c" stroke="#093c6c" stroke-width="0.35"/>
<circle cx="109.9" cy="162.0" r="2.15" fill="#56207a" stroke="#3a1054" stroke-width="0.35"/>
<circle cx="113.7" cy="162.0" r="2.15" fill="#56207a" stroke="#3a1054" stroke-width="0.35"/>
<circle cx="71.5" cy="166.7" r="2.15" fill="#0e4f8c" stroke="#093c6c" stroke-width="0.35"/>
<circle cx="82" cy="166.7" r="2.15" fill="#56207a" stroke="#3a1054" stroke-width="0.35"/>
<circle cx="89.5" cy="166.7" r="2.15" fill="#0e4f8c" stroke="#093c6c" stroke-width="0.35"/>
<circle cx="109.9" cy="166.7" r="2.15" fill="#39b54a" stroke="#268f36" stroke-width="0.35"/>
<circle cx="113.9" cy="166.7" r="2.15" fill="#39b54a" stroke="#268f36" stroke-width="0.35"/>
<circle cx="109.9" cy="171.5" r="2.15" fill="#56207a" stroke="#3a1054" stroke-width="0.35"/>
<circle cx="123" cy="162.0" r="2.15" fill="#56207a" stroke="#3a1054" stroke-width="0.35"/>
<circle cx="127.5" cy="162.0" r="2.15" fill="#0e4f8c" stroke="#093c6c" stroke-width="0.35"/>
<circle cx="135.2" cy="162.0" r="2.15" fill="#56207a" stroke="#3a1054" stroke-width="0.35"/>
<circle cx="140.8" cy="162.0" r="2.15" fill="#39b54a" stroke="#268f36" stroke-width="0.35"/>
<circle cx="145.5" cy="162.0" r="2.15" fill="#56207a" stroke="#3a1054" stroke-width="0.35"/>
<circle cx="150" cy="162.0" r="2.15" fill="#39b54a" stroke="#268f36" stroke-width="0.35"/>
<circle cx="154.2" cy="162.0" r="2.15" fill="#56207a" stroke="#3a1054" stroke-width="0.35"/>
<circle cx="158.5" cy="162.0" r="2.15" fill="#56207a" stroke="#3a1054" stroke-width="0.35"/>
<circle cx="129.5" cy="166.7" r="2.15" fill="#56207a" stroke="#3a1054" stroke-width="0.35"/>
<circle cx="135.2" cy="166.7" r="2.15" fill="#39b54a" stroke="#268f36" stroke-width="0.35"/>
<circle cx="145.8" cy="166.7" r="2.15" fill="#56207a" stroke="#3a1054" stroke-width="0.35"/>
<circle cx="151" cy="166.7" r="2.15" fill="#c8102e" stroke="#900a22" stroke-width="0.35"/>
<circle cx="129.5" cy="171.5" r="2.15" fill="#56207a" stroke="#3a1054" stroke-width="0.35"/>
<circle cx="135.2" cy="171.5" r="2.15" fill="#39b54a" stroke="#268f36" stroke-width="0.35"/>
<circle cx="146.8" cy="171.5" r="2.15" fill="#56207a" stroke="#3a1054" stroke-width="0.35"/>
<circle cx="163.8" cy="162.0" r="2.15" fill="#56207a" stroke="#3a1054" stroke-width="0.35"/>
<circle cx="168.5" cy="162.0" r="2.15" fill="#56207a" stroke="#3a1054" stroke-width="0.35"/>
<circle cx="172.8" cy="162.0" r="2.15" fill="#39b54a" stroke="#268f36" stroke-width="0.35"/>
<circle cx="177.8" cy="162.0" r="2.15" fill="#39b54a" stroke="#268f36" stroke-width="0.35"/>
<circle cx="183" cy="162.0" r="2.15" fill="#39b54a" stroke="#268f36" stroke-width="0.35"/>
<circle cx="187.2" cy="162.0" r="2.15" fill="#39b54a" stroke="#268f36" stroke-width="0.35"/>
<circle cx="193.8" cy="162.0" r="2.15" fill="#56207a" stroke="#3a1054" stroke-width="0.35"/>
<circle cx="198.5" cy="162.0" r="2.15" fill="#56207a" stroke="#3a1054" stroke-width="0.35"/>
<circle cx="202.5" cy="162.0" r="2.15" fill="#56207a" stroke="#3a1054" stroke-width="0.35"/>
<circle cx="207.7" cy="162.0" r="2.15" fill="#56207a" stroke="#3a1054" stroke-width="0.35"/>
<circle cx="164.2" cy="166.7" r="2.15" fill="#56207a" stroke="#3a1054" stroke-width="0.35"/>
<circle cx="172.5" cy="166.7" r="2.15" fill="#c8102e" stroke="#900a22" stroke-width="0.35"/>
<circle cx="183.5" cy="166.7" r="2.15" fill="#56207a" stroke="#3a1054" stroke-width="0.35"/>
<circle cx="188" cy="166.7" r="2.15" fill="#56207a" stroke="#3a1054" stroke-width="0.35"/>
<circle cx="198.8" cy="166.7" r="2.15" fill="#56207a" stroke="#3a1054" stroke-width="0.35"/>
<circle cx="203.5" cy="166.7" r="2.15" fill="#56207a" stroke="#3a1054" stroke-width="0.35"/>
<circle cx="207.7" cy="166.7" r="2.15" fill="#0e4f8c" stroke="#093c6c" stroke-width="0.35"/>
<circle cx="164.5" cy="171.5" r="2.15" fill="#0e4f8c" stroke="#093c6c" stroke-width="0.35"/>
<circle cx="183.8" cy="171.5" r="2.15" fill="#0e4f8c" stroke="#093c6c" stroke-width="0.35"/>
<circle cx="208.5" cy="171.5" r="2.15" fill="#0e4f8c" stroke="#093c6c" stroke-width="0.35"/>
<circle cx="164.8" cy="176.3" r="2.15" fill="#0e4f8c" stroke="#093c6c" stroke-width="0.35"/>
<circle cx="212.5" cy="162.0" r="2.15" fill="#39b54a" stroke="#268f36" stroke-width="0.35"/>
<circle cx="217.5" cy="162.0" r="2.15" fill="#56207a" stroke="#3a1054" stroke-width="0.35"/>
<circle cx="221.5" cy="162.0" r="2.15" fill="#56207a" stroke="#3a1054" stroke-width="0.35"/>
<circle cx="225.5" cy="162.0" r="2.15" fill="#56207a" stroke="#3a1054" stroke-width="0.35"/>
<circle cx="230.8" cy="162.0" r="2.15" fill="#39b54a" stroke="#268f36" stroke-width="0.35"/>
<circle cx="236" cy="162.0" r="2.15" fill="#56207a" stroke="#3a1054" stroke-width="0.35"/>
<circle cx="239.5" cy="162.0" r="2.15" fill="#56207a" stroke="#3a1054" stroke-width="0.35"/>
<circle cx="244" cy="162.0" r="2.15" fill="#39b54a" stroke="#268f36" stroke-width="0.35"/>
<circle cx="249" cy="162.0" r="2.15" fill="#56207a" stroke="#3a1054" stroke-width="0.35"/>
<circle cx="213.5" cy="166.7" r="2.15" fill="#39b54a" stroke="#268f36" stroke-width="0.35"/>
<circle cx="226.5" cy="166.7" r="2.15" fill="#56207a" stroke="#3a1054" stroke-width="0.35"/>
<circle cx="230.8" cy="166.7" r="2.15" fill="#56207a" stroke="#3a1054" stroke-width="0.35"/>
<circle cx="236" cy="166.7" r="2.15" fill="#56207a" stroke="#3a1054" stroke-width="0.35"/>
<circle cx="240.5" cy="166.7" r="2.15" fill="#39b54a" stroke="#268f36" stroke-width="0.35"/>
<circle cx="244.5" cy="166.7" r="2.15" fill="#39b54a" stroke="#268f36" stroke-width="0.35"/>
<circle cx="249" cy="166.7" r="2.15" fill="#0e4f8c" stroke="#093c6c" stroke-width="0.35"/>
<circle cx="227" cy="171.5" r="2.15" fill="#0e4f8c" stroke="#093c6c" stroke-width="0.35"/>
<circle cx="236.8" cy="171.5" r="2.15" fill="#56207a" stroke="#3a1054" stroke-width="0.35"/>
<circle cx="227.2" cy="176.3" r="2.15" fill="#39b54a" stroke="#268f36" stroke-width="0.35"/>
<circle cx="30.8" cy="256.8" r="2.15" fill="#c8102e" stroke="#900a22" stroke-width="0.35"/>
<circle cx="110.8" cy="256.8" r="2.15" fill="#39b54a" stroke="#268f36" stroke-width="0.35"/>
<circle cx="115.5" cy="256.8" r="2.15" fill="#56207a" stroke="#3a1054" stroke-width="0.35"/>
<circle cx="121.2" cy="256.8" r="2.15" fill="#39b54a" stroke="#268f36" stroke-width="0.35"/>
<circle cx="135.5" cy="256.8" r="2.15" fill="#c8102e" stroke="#900a22" stroke-width="0.35"/>
<circle cx="144" cy="256.8" r="2.15" fill="#0e4f8c" stroke="#093c6c" stroke-width="0.35"/>
<circle cx="151.8" cy="256.8" r="2.15" fill="#39b54a" stroke="#268f36" stroke-width="0.35"/>
<circle cx="159" cy="256.8" r="2.15" fill="#c8102e" stroke="#900a22" stroke-width="0.35"/>
<circle cx="168.5" cy="256.8" r="2.15" fill="#0e4f8c" stroke="#093c6c" stroke-width="0.35"/>
<circle cx="176.2" cy="256.8" r="2.15" fill="#39b54a" stroke="#268f36" stroke-width="0.35"/>
<circle cx="185" cy="256.8" r="2.15" fill="#39b54a" stroke="#268f36" stroke-width="0.35"/>
<circle cx="216" cy="256.8" r="2.15" fill="#56207a" stroke="#3a1054" stroke-width="0.35"/>
<circle cx="221.2" cy="256.8" r="2.15" fill="#39b54a" stroke="#268f36" stroke-width="0.35"/>
<circle cx="227.8" cy="256.8" r="2.15" fill="#56207a" stroke="#3a1054" stroke-width="0.35"/>
<circle cx="237.7" cy="256.8" r="2.15" fill="#39b54a" stroke="#268f36" stroke-width="0.35"/>
<circle cx="243" cy="256.8" r="2.15" fill="#56207a" stroke="#3a1054" stroke-width="0.35"/>
<circle cx="248.5" cy="256.8" r="2.15" fill="#39b54a" stroke="#268f36" stroke-width="0.35"/>
<circle cx="253.8" cy="256.8" r="2.15" fill="#56207a" stroke="#3a1054" stroke-width="0.35"/>
<circle cx="263.5" cy="256.8" r="2.15" fill="#39b54a" stroke="#268f36" stroke-width="0.35"/>
<circle cx="168.5" cy="251.3" r="2.15" fill="#39b54a" stroke="#268f36" stroke-width="0.35"/>
<circle cx="185" cy="251.3" r="2.15" fill="#0e4f8c" stroke="#093c6c" stroke-width="0.35"/>
<circle cx="253.8" cy="251.3" r="2.15" fill="#56207a" stroke="#3a1054" stroke-width="0.35"/>
<circle cx="111.5" cy="280.0" r="2.15" fill="#39b54a" stroke="#268f36" stroke-width="0.35"/>
<circle cx="118.3" cy="280.0" r="2.15" fill="#0e4f8c" stroke="#093c6c" stroke-width="0.35"/>
<circle cx="135" cy="280.0" r="2.15" fill="#39b54a" stroke="#268f36" stroke-width="0.35"/>
<circle cx="140" cy="280.0" r="2.15" fill="#39b54a" stroke="#268f36" stroke-width="0.35"/>
<circle cx="147.5" cy="280.0" r="2.15" fill="#c8102e" stroke="#900a22" stroke-width="0.35"/>
<circle cx="160.8" cy="280.0" r="2.15" fill="#0e4f8c" stroke="#093c6c" stroke-width="0.35"/>
<circle cx="176.2" cy="280.0" r="2.15" fill="#39b54a" stroke="#268f36" stroke-width="0.35"/>
<circle cx="181" cy="280.0" r="2.15" fill="#56207a" stroke="#3a1054" stroke-width="0.35"/>
<circle cx="205.8" cy="280.0" r="2.15" fill="#0e4f8c" stroke="#093c6c" stroke-width="0.35"/>
<circle cx="214.2" cy="280.0" r="2.15" fill="#39b54a" stroke="#268f36" stroke-width="0.35"/>
<circle cx="225.8" cy="280.0" r="2.15" fill="#39b54a" stroke="#268f36" stroke-width="0.35"/>
<circle cx="232.1" cy="280.0" r="2.15" fill="#56207a" stroke="#3a1054" stroke-width="0.35"/>
<circle cx="239.7" cy="280.0" r="2.15" fill="#56207a" stroke="#3a1054" stroke-width="0.35"/>
<circle cx="245.3" cy="280.0" r="2.15" fill="#56207a" stroke="#3a1054" stroke-width="0.35"/>
<circle cx="250.3" cy="280.0" r="2.15" fill="#56207a" stroke="#3a1054" stroke-width="0.35"/>
<circle cx="257" cy="280.0" r="2.15" fill="#56207a" stroke="#3a1054" stroke-width="0.35"/>
<circle cx="112.5" cy="285.0" r="2.15" fill="#0e4f8c" stroke="#093c6c" stroke-width="0.35"/>
<circle cx="118.3" cy="285.0" r="2.15" fill="#0e4f8c" stroke="#093c6c" stroke-width="0.35"/>
<circle cx="161.8" cy="285.0" r="2.15" fill="#c8102e" stroke="#900a22" stroke-width="0.35"/>
<circle cx="181" cy="285.0" r="2.15" fill="#0e4f8c" stroke="#093c6c" stroke-width="0.35"/>
<circle cx="29.5" cy="330.2" r="2.15" fill="#56207a" stroke="#3a1054" stroke-width="0.35"/>
<circle cx="44.2" cy="330.2" r="2.15" fill="#39b54a" stroke="#268f36" stroke-width="0.35"/>
<circle cx="52" cy="330.2" r="2.15" fill="#0e4f8c" stroke="#093c6c" stroke-width="0.35"/>
<circle cx="61.2" cy="330.2" r="2.15" fill="#c8102e" stroke="#900a22" stroke-width="0.35"/>
<circle cx="74.3" cy="330.2" r="2.15" fill="#39b54a" stroke="#268f36" stroke-width="0.35"/>
<circle cx="85.5" cy="330.2" r="2.15" fill="#39b54a" stroke="#268f36" stroke-width="0.35"/>
<circle cx="99.7" cy="330.2" r="2.15" fill="#c8102e" stroke="#900a22" stroke-width="0.35"/>
<circle cx="114.2" cy="330.2" r="2.15" fill="#56207a" stroke="#3a1054" stroke-width="0.35"/>
<circle cx="122.2" cy="330.2" r="2.15" fill="#56207a" stroke="#3a1054" stroke-width="0.35"/>
<circle cx="130.5" cy="330.2" r="2.15" fill="#56207a" stroke="#3a1054" stroke-width="0.35"/>
<circle cx="140" cy="330.2" r="2.15" fill="#56207a" stroke="#3a1054" stroke-width="0.35"/>
<circle cx="149.2" cy="330.2" r="2.15" fill="#39b54a" stroke="#268f36" stroke-width="0.35"/>
<circle cx="159" cy="330.2" r="2.15" fill="#56207a" stroke="#3a1054" stroke-width="0.35"/>
<circle cx="166.8" cy="330.2" r="2.15" fill="#c8102e" stroke="#900a22" stroke-width="0.35"/>
<circle cx="175.5" cy="330.2" r="2.15" fill="#39b54a" stroke="#268f36" stroke-width="0.35"/>
<circle cx="181" cy="330.2" r="2.15" fill="#39b54a" stroke="#268f36" stroke-width="0.35"/>
<circle cx="188" cy="330.2" r="2.15" fill="#0e4f8c" stroke="#093c6c" stroke-width="0.35"/>
<circle cx="195" cy="330.2" r="2.15" fill="#39b54a" stroke="#268f36" stroke-width="0.35"/>
<circle cx="206" cy="330.2" r="2.15" fill="#0e4f8c" stroke="#093c6c" stroke-width="0.35"/>
<circle cx="212.5" cy="330.2" r="2.15" fill="#0e4f8c" stroke="#093c6c" stroke-width="0.35"/>
<circle cx="222" cy="330.2" r="2.15" fill="#0e4f8c" stroke="#093c6c" stroke-width="0.35"/>
<circle cx="234" cy="330.2" r="2.15" fill="#0e4f8c" stroke="#093c6c" stroke-width="0.35"/>
<circle cx="62.2" cy="324.8" r="2.15" fill="#39b54a" stroke="#268f36" stroke-width="0.35"/>
<circle cx="76" cy="324.8" r="2.15" fill="#39b54a" stroke="#268f36" stroke-width="0.35"/>
<circle cx="122.8" cy="324.8" r="2.15" fill="#39b54a" stroke="#268f36" stroke-width="0.35"/>
<circle cx="141.5" cy="324.8" r="2.15" fill="#39b54a" stroke="#268f36" stroke-width="0.35"/>
<circle cx="151" cy="324.8" r="2.15" fill="#0e4f8c" stroke="#093c6c" stroke-width="0.35"/>
<circle cx="159" cy="324.8" r="2.15" fill="#56207a" stroke="#3a1054" stroke-width="0.35"/>
<circle cx="167.8" cy="324.8" r="2.15" fill="#0e4f8c" stroke="#093c6c" stroke-width="0.35"/>
<circle cx="181.8" cy="324.8" r="2.15" fill="#39b54a" stroke="#268f36" stroke-width="0.35"/>
<circle cx="195" cy="324.8" r="2.15" fill="#39b54a" stroke="#268f36" stroke-width="0.35"/>
<circle cx="207.5" cy="324.8" r="2.15" fill="#39b54a" stroke="#268f36" stroke-width="0.35"/>
<circle cx="214.2" cy="324.8" r="2.15" fill="#39b54a" stroke="#268f36" stroke-width="0.35"/>
<circle cx="62.8" cy="319.3" r="2.15" fill="#39b54a" stroke="#268f36" stroke-width="0.35"/>
<circle cx="152" cy="319.3" r="2.15" fill="#39b54a" stroke="#268f36" stroke-width="0.35"/>
<circle cx="168.5" cy="319.3" r="2.15" fill="#39b54a" stroke="#268f36" stroke-width="0.35"/>
<circle cx="182.5" cy="319.3" r="2.15" fill="#39b54a" stroke="#268f36" stroke-width="0.35"/>
<circle cx="216" cy="319.3" r="2.15" fill="#0e4f8c" stroke="#093c6c" stroke-width="0.35"/>
<circle cx="39.5" cy="353.5" r="2.15" fill="#39b54a" stroke="#268f36" stroke-width="0.35"/>
<circle cx="47.8" cy="353.5" r="2.15" fill="#39b54a" stroke="#268f36" stroke-width="0.35"/>
<circle cx="55.2" cy="353.5" r="2.15" fill="#56207a" stroke="#3a1054" stroke-width="0.35"/>
<circle cx="64.4" cy="353.5" r="2.15" fill="#56207a" stroke="#3a1054" stroke-width="0.35"/>
<circle cx="69.2" cy="353.5" r="2.15" fill="#56207a" stroke="#3a1054" stroke-width="0.35"/>
<circle cx="81.2" cy="353.5" r="2.15" fill="#0e4f8c" stroke="#093c6c" stroke-width="0.35"/>
<circle cx="91" cy="353.5" r="2.15" fill="#39b54a" stroke="#268f36" stroke-width="0.35"/>
<circle cx="96.2" cy="353.5" r="2.15" fill="#39b54a" stroke="#268f36" stroke-width="0.35"/>
<circle cx="106.3" cy="353.5" r="2.15" fill="#56207a" stroke="#3a1054" stroke-width="0.35"/>
<circle cx="118.8" cy="353.5" r="2.15" fill="#56207a" stroke="#3a1054" stroke-width="0.35"/>
<circle cx="126.2" cy="353.5" r="2.15" fill="#39b54a" stroke="#268f36" stroke-width="0.35"/>
<circle cx="134" cy="353.5" r="2.15" fill="#c8102e" stroke="#900a22" stroke-width="0.35"/>
<circle cx="145" cy="353.5" r="2.15" fill="#39b54a" stroke="#268f36" stroke-width="0.35"/>
<circle cx="153.7" cy="353.5" r="2.15" fill="#56207a" stroke="#3a1054" stroke-width="0.35"/>
<circle cx="163.5" cy="353.5" r="2.15" fill="#39b54a" stroke="#268f36" stroke-width="0.35"/>
<circle cx="172" cy="353.5" r="2.15" fill="#56207a" stroke="#3a1054" stroke-width="0.35"/>
<circle cx="178" cy="353.5" r="2.15" fill="#0e4f8c" stroke="#093c6c" stroke-width="0.35"/>
<circle cx="186" cy="353.5" r="2.15" fill="#0e4f8c" stroke="#093c6c" stroke-width="0.35"/>
<circle cx="192.5" cy="353.5" r="2.15" fill="#56207a" stroke="#3a1054" stroke-width="0.35"/>
<circle cx="200.8" cy="353.5" r="2.15" fill="#56207a" stroke="#3a1054" stroke-width="0.35"/>
<circle cx="209.2" cy="353.5" r="2.15" fill="#56207a" stroke="#3a1054" stroke-width="0.35"/>
<circle cx="217.5" cy="353.5" r="2.15" fill="#39b54a" stroke="#268f36" stroke-width="0.35"/>
<circle cx="227.5" cy="353.5" r="2.15" fill="#39b54a" stroke="#268f36" stroke-width="0.35"/>
<circle cx="57" cy="358.7" r="2.15" fill="#56207a" stroke="#3a1054" stroke-width="0.35"/>
<circle cx="83" cy="358.7" r="2.15" fill="#39b54a" stroke="#268f36" stroke-width="0.35"/>
<circle cx="93" cy="358.7" r="2.15" fill="#39b54a" stroke="#268f36" stroke-width="0.35"/>
<circle cx="110" cy="358.7" r="2.15" fill="#c8102e" stroke="#900a22" stroke-width="0.35"/>
<circle cx="135.8" cy="358.7" r="2.15" fill="#56207a" stroke="#3a1054" stroke-width="0.35"/>
<circle cx="146" cy="358.7" r="2.15" fill="#0e4f8c" stroke="#093c6c" stroke-width="0.35"/>
<circle cx="154.5" cy="358.7" r="2.15" fill="#0e4f8c" stroke="#093c6c" stroke-width="0.35"/>
<circle cx="164.5" cy="358.7" r="2.15" fill="#39b54a" stroke="#268f36" stroke-width="0.35"/>
<circle cx="172.8" cy="358.7" r="2.15" fill="#39b54a" stroke="#268f36" stroke-width="0.35"/>
<circle cx="178" cy="358.7" r="2.15" fill="#0e4f8c" stroke="#093c6c" stroke-width="0.35"/>
<circle cx="186.5" cy="358.7" r="2.15" fill="#39b54a" stroke="#268f36" stroke-width="0.35"/>
<circle cx="193.2" cy="358.7" r="2.15" fill="#56207a" stroke="#3a1054" stroke-width="0.35"/>
<circle cx="202.2" cy="358.7" r="2.15" fill="#56207a" stroke="#3a1054" stroke-width="0.35"/>
<circle cx="217.8" cy="358.7" r="2.15" fill="#39b54a" stroke="#268f36" stroke-width="0.35"/>
<circle cx="229.2" cy="358.7" r="2.15" fill="#39b54a" stroke="#268f36" stroke-width="0.35"/>
<circle cx="58.5" cy="364.0" r="2.15" fill="#56207a" stroke="#3a1054" stroke-width="0.35"/>
<circle cx="138.2" cy="364.0" r="2.15" fill="#0e4f8c" stroke="#093c6c" stroke-width="0.35"/>
<circle cx="147.5" cy="364.0" r="2.15" fill="#56207a" stroke="#3a1054" stroke-width="0.35"/>
<circle cx="165.2" cy="364.0" r="2.15" fill="#39b54a" stroke="#268f36" stroke-width="0.35"/>
<circle cx="173.8" cy="364.0" r="2.15" fill="#56207a" stroke="#3a1054" stroke-width="0.35"/>
<circle cx="187.5" cy="364.0" r="2.15" fill="#39b54a" stroke="#268f36" stroke-width="0.35"/>
<circle cx="203.8" cy="364.0" r="2.15" fill="#56207a" stroke="#3a1054" stroke-width="0.35"/>
<path d="M401.30,94.00 L381.16,58.40 A40.9,40.9 0 1 1 365.56,113.89 Z" fill="#c8102e"/>
<path d="M394.60,92.30 L359.44,111.79 A40.2,40.2 0 0 1 368.02,62.15 Z" fill="#13528a"/>
<path d="M395.70,89.90 L370.53,59.59 A39.4,39.4 0 0 1 376.48,55.51 Z" fill="#39b54a"/>
<path d="M402.30,281.50 L441.77,295.56 A41.9,41.9 0 1 1 394.02,240.43 Z" fill="#c8102e"/>
<path d="M408.20,277.20 L408.35,235.50 A41.7,41.7 0 0 1 447.48,291.19 Z" fill="#13528a"/>
<path d="M404.80,275.80 L396.64,235.31 A41.3,41.3 0 0 1 404.73,234.50 Z" fill="#39b54a"/>
<line x1="375.10" y1="57.50" x2="375.10" y2="48.02" stroke="#000" stroke-width="1.45"/>
<path d="M375.10,41.30 L380.30,50.90 L375.10,48.02 L369.90,50.90 Z" fill="#000"/>
<line x1="355.40" y1="78.30" x2="338.84" y2="73.33" stroke="#000" stroke-width="1.45"/>
<path d="M332.40,71.40 L343.09,69.18 L338.84,73.33 L340.10,79.14 Z" fill="#000"/>
<line x1="437.00" y1="73.60" x2="453.62" y2="68.99" stroke="#000" stroke-width="1.45"/>
<path d="M460.10,67.20 L452.24,74.77 L453.62,68.99 L449.46,64.75 Z" fill="#000"/>
<line x1="401.40" y1="234.00" x2="401.40" y2="216.72" stroke="#000" stroke-width="1.45"/>
<path d="M401.40,210.00 L406.60,219.60 L401.40,216.72 L396.20,219.60 Z" fill="#000"/>
<line x1="364.60" y1="271.70" x2="349.01" y2="266.81" stroke="#000" stroke-width="1.45"/>
<path d="M342.60,264.80 L353.32,262.71 L349.01,266.81 L350.20,272.63 Z" fill="#000"/>
<line x1="446.00" y1="258.40" x2="462.15" y2="253.68" stroke="#000" stroke-width="1.45"/>
<path d="M468.60,251.80 L460.84,259.48 L462.15,253.68 L457.93,249.50 Z" fill="#000"/>
<text x="422.45" y="93.6" font-size="8.6" fill="#fff" text-anchor="middle" font-weight="normal" textLength="22.2" lengthAdjust="spacingAndGlyphs">75.1%</text>
<text x="422.3" y="102.3" font-size="8.6" fill="#fff" text-anchor="middle" font-weight="normal" textLength="18.6" lengthAdjust="spacingAndGlyphs">(223)</text>
<text x="370.8" y="87.4" font-size="8.6" fill="#fff" text-anchor="middle" font-weight="normal" textLength="22.3" lengthAdjust="spacingAndGlyphs">22.2%</text>
<text x="370.55" y="96.6" font-size="8.6" fill="#fff" text-anchor="middle" font-weight="normal" textLength="14.1" lengthAdjust="spacingAndGlyphs">(66)</text>
<text x="360.7" y="53.3" font-size="8.6" fill="#231f20" text-anchor="middle" font-weight="normal" stroke="#231f20" stroke-width="0.15" textLength="18.1" lengthAdjust="spacingAndGlyphs">2.7%</text>
<text x="360.5" y="62.2" font-size="8.6" fill="#231f20" text-anchor="middle" font-weight="normal" stroke="#231f20" stroke-width="0.15" textLength="9.8" lengthAdjust="spacingAndGlyphs">(8)</text>
<text x="384.7" y="292.4" font-size="8.6" fill="#fff" text-anchor="middle" font-weight="normal" textLength="22.5" lengthAdjust="spacingAndGlyphs">66.6%</text>
<text x="384.5" y="301.4" font-size="8.6" fill="#fff" text-anchor="middle" font-weight="normal" textLength="14.5" lengthAdjust="spacingAndGlyphs">(84)</text>
<text x="426.1" y="261.7" font-size="8.6" fill="#fff" text-anchor="middle" font-weight="normal" textLength="22.8" lengthAdjust="spacingAndGlyphs">30.2%</text>
<text x="425.5" y="270.7" font-size="8.6" fill="#fff" text-anchor="middle" font-weight="normal" textLength="13.8" lengthAdjust="spacingAndGlyphs">(38)</text>
<text x="386.8" y="229.1" font-size="8.6" fill="#231f20" text-anchor="middle" font-weight="normal" stroke="#231f20" stroke-width="0.15" textLength="17.6" lengthAdjust="spacingAndGlyphs">3.2%</text>
<text x="387.1" y="238.1" font-size="8.6" fill="#231f20" text-anchor="middle" font-weight="normal" stroke="#231f20" stroke-width="0.15" textLength="9.8" lengthAdjust="spacingAndGlyphs">(4)</text>
<text x="294.9" y="46.80" font-size="7.4" fill="#231f20" text-anchor="start" font-weight="normal" stroke="#231f20" stroke-width="0.2" textLength="14.81" lengthAdjust="spacingAndGlyphs">Ex 4:</text>
<text x="315.0" y="46.80" font-size="7.4" fill="#231f20" text-anchor="start" font-weight="normal" stroke="#231f20" stroke-width="0.2" textLength="18.43" lengthAdjust="spacingAndGlyphs">59.1%</text>
<text x="294.9" y="54.95" font-size="7.4" fill="#231f20" text-anchor="start" font-weight="normal" stroke="#231f20" stroke-width="0.2" textLength="14.81" lengthAdjust="spacingAndGlyphs">Ex 5:</text>
<text x="315.0" y="54.95" font-size="7.4" fill="#231f20" text-anchor="start" font-weight="normal" stroke="#231f20" stroke-width="0.2" textLength="14.82" lengthAdjust="spacingAndGlyphs">1.5%</text>
<text x="294.9" y="63.10" font-size="7.4" fill="#231f20" text-anchor="start" font-weight="normal" stroke="#231f20" stroke-width="0.2" textLength="14.81" lengthAdjust="spacingAndGlyphs">Ex 6:</text>
<text x="315.0" y="63.10" font-size="7.4" fill="#231f20" text-anchor="start" font-weight="normal" stroke="#231f20" stroke-width="0.2" textLength="9.39" lengthAdjust="spacingAndGlyphs">3%</text>
<text x="294.9" y="71.25" font-size="7.4" fill="#231f20" text-anchor="start" font-weight="normal" stroke="#231f20" stroke-width="0.2" textLength="14.81" lengthAdjust="spacingAndGlyphs">Ex 7:</text>
<text x="315.0" y="71.25" font-size="7.4" fill="#231f20" text-anchor="start" font-weight="normal" stroke="#231f20" stroke-width="0.2" textLength="9.39" lengthAdjust="spacingAndGlyphs">3%</text>
<text x="294.9" y="79.40" font-size="7.4" fill="#231f20" text-anchor="start" font-weight="normal" stroke="#231f20" stroke-width="0.2" textLength="14.81" lengthAdjust="spacingAndGlyphs">Ex 8:</text>
<text x="315.0" y="79.40" font-size="7.4" fill="#231f20" text-anchor="start" font-weight="normal" stroke="#231f20" stroke-width="0.2" textLength="14.82" lengthAdjust="spacingAndGlyphs">7.6%</text>
<text x="294.9" y="87.55" font-size="7.4" fill="#231f20" text-anchor="start" font-weight="normal" stroke="#231f20" stroke-width="0.2" textLength="14.81" lengthAdjust="spacingAndGlyphs">Ex 9:</text>
<text x="315.0" y="87.55" font-size="7.4" fill="#231f20" text-anchor="start" font-weight="normal" stroke="#231f20" stroke-width="0.2" textLength="14.82" lengthAdjust="spacingAndGlyphs">4.5%</text>
<text x="294.9" y="95.70" font-size="7.4" fill="#231f20" text-anchor="start" font-weight="normal" stroke="#231f20" stroke-width="0.2" textLength="18.43" lengthAdjust="spacingAndGlyphs">Ex 10:</text>
<text x="315.0" y="95.70" font-size="7.4" fill="#231f20" text-anchor="start" font-weight="normal" stroke="#231f20" stroke-width="0.2" textLength="14.82" lengthAdjust="spacingAndGlyphs">6.1%</text>
<text x="294.9" y="103.85" font-size="7.4" fill="#231f20" text-anchor="start" font-weight="normal" stroke="#231f20" stroke-width="0.2" textLength="17.95" lengthAdjust="spacingAndGlyphs">Ex 11:</text>
<text x="315.0" y="103.85" font-size="7.4" fill="#231f20" text-anchor="start" font-weight="normal" stroke="#231f20" stroke-width="0.2" textLength="14.82" lengthAdjust="spacingAndGlyphs">1.5%</text>
<text x="294.9" y="112.00" font-size="7.4" fill="#231f20" text-anchor="start" font-weight="normal" stroke="#231f20" stroke-width="0.2" textLength="18.43" lengthAdjust="spacingAndGlyphs">Ex 12:</text>
<text x="315.0" y="112.00" font-size="7.4" fill="#231f20" text-anchor="start" font-weight="normal" stroke="#231f20" stroke-width="0.2" textLength="14.82" lengthAdjust="spacingAndGlyphs">6.1%</text>
<text x="294.9" y="120.15" font-size="7.4" fill="#231f20" text-anchor="start" font-weight="normal" stroke="#231f20" stroke-width="0.2" textLength="18.43" lengthAdjust="spacingAndGlyphs">Ex 13:</text>
<text x="315.0" y="120.15" font-size="7.4" fill="#231f20" text-anchor="start" font-weight="normal" stroke="#231f20" stroke-width="0.2" textLength="14.82" lengthAdjust="spacingAndGlyphs">1.5%</text>
<text x="294.9" y="128.30" font-size="7.4" fill="#231f20" text-anchor="start" font-weight="normal" stroke="#231f20" stroke-width="0.2" textLength="18.43" lengthAdjust="spacingAndGlyphs">Ex 14:</text>
<text x="315.0" y="128.30" font-size="7.4" fill="#231f20" text-anchor="start" font-weight="normal" stroke="#231f20" stroke-width="0.2" textLength="14.82" lengthAdjust="spacingAndGlyphs">1.5%</text>
<text x="294.9" y="136.45" font-size="7.4" fill="#231f20" text-anchor="start" font-weight="normal" stroke="#231f20" stroke-width="0.2" textLength="18.43" lengthAdjust="spacingAndGlyphs">Ex 15:</text>
<text x="315.0" y="136.45" font-size="7.4" fill="#231f20" text-anchor="start" font-weight="normal" stroke="#231f20" stroke-width="0.2" textLength="14.82" lengthAdjust="spacingAndGlyphs">4.5%</text>
<text x="469.6" y="46.40" font-size="7.4" fill="#231f20" text-anchor="start" font-weight="normal" stroke="#231f20" stroke-width="0.2" textLength="14.81" lengthAdjust="spacingAndGlyphs">Ex 2:</text>
<text x="490.2" y="46.40" font-size="7.4" fill="#231f20" text-anchor="start" font-weight="normal" stroke="#231f20" stroke-width="0.2" textLength="18.43" lengthAdjust="spacingAndGlyphs">0.45%</text>
<text x="469.6" y="54.55" font-size="7.4" fill="#231f20" text-anchor="start" font-weight="normal" stroke="#231f20" stroke-width="0.2" textLength="14.81" lengthAdjust="spacingAndGlyphs">Ex 4:</text>
<text x="490.2" y="54.55" font-size="7.4" fill="#231f20" text-anchor="start" font-weight="normal" stroke="#231f20" stroke-width="0.2" textLength="18.43" lengthAdjust="spacingAndGlyphs">49.8%</text>
<text x="469.6" y="62.70" font-size="7.4" fill="#231f20" text-anchor="start" font-weight="normal" stroke="#231f20" stroke-width="0.2" textLength="14.81" lengthAdjust="spacingAndGlyphs">Ex 5:</text>
<text x="490.2" y="62.70" font-size="7.4" fill="#231f20" text-anchor="start" font-weight="normal" stroke="#231f20" stroke-width="0.2" textLength="14.82" lengthAdjust="spacingAndGlyphs">0.9%</text>
<text x="469.6" y="70.85" font-size="7.4" fill="#231f20" text-anchor="start" font-weight="normal" stroke="#231f20" stroke-width="0.2" textLength="14.81" lengthAdjust="spacingAndGlyphs">Ex 6:</text>
<text x="490.2" y="70.85" font-size="7.4" fill="#231f20" text-anchor="start" font-weight="normal" stroke="#231f20" stroke-width="0.2" textLength="14.82" lengthAdjust="spacingAndGlyphs">2.2%</text>
<text x="469.6" y="79.00" font-size="7.4" fill="#231f20" text-anchor="start" font-weight="normal" stroke="#231f20" stroke-width="0.2" textLength="14.81" lengthAdjust="spacingAndGlyphs">Ex 7:</text>
<text x="490.2" y="79.00" font-size="7.4" fill="#231f20" text-anchor="start" font-weight="normal" stroke="#231f20" stroke-width="0.2" textLength="14.82" lengthAdjust="spacingAndGlyphs">5.4%</text>
<text x="469.6" y="87.15" font-size="7.4" fill="#231f20" text-anchor="start" font-weight="normal" stroke="#231f20" stroke-width="0.2" textLength="14.81" lengthAdjust="spacingAndGlyphs">Ex 8:</text>
<text x="490.2" y="87.15" font-size="7.4" fill="#231f20" text-anchor="start" font-weight="normal" stroke="#231f20" stroke-width="0.2" textLength="14.82" lengthAdjust="spacingAndGlyphs">6.7%</text>
<text x="469.6" y="95.30" font-size="7.4" fill="#231f20" text-anchor="start" font-weight="normal" stroke="#231f20" stroke-width="0.2" textLength="14.81" lengthAdjust="spacingAndGlyphs">Ex 9:</text>
<text x="490.2" y="95.30" font-size="7.4" fill="#231f20" text-anchor="start" font-weight="normal" stroke="#231f20" stroke-width="0.2" textLength="14.82" lengthAdjust="spacingAndGlyphs">9.4%</text>
<text x="469.6" y="103.45" font-size="7.4" fill="#231f20" text-anchor="start" font-weight="normal" stroke="#231f20" stroke-width="0.2" textLength="18.43" lengthAdjust="spacingAndGlyphs">Ex 10:</text>
<text x="490.2" y="103.45" font-size="7.4" fill="#231f20" text-anchor="start" font-weight="normal" stroke="#231f20" stroke-width="0.2" textLength="14.82" lengthAdjust="spacingAndGlyphs">5.8%</text>
<text x="469.6" y="111.60" font-size="7.4" fill="#231f20" text-anchor="start" font-weight="normal" stroke="#231f20" stroke-width="0.2" textLength="18.43" lengthAdjust="spacingAndGlyphs">Ex 14:</text>
<text x="490.2" y="111.60" font-size="7.4" fill="#231f20" text-anchor="start" font-weight="normal" stroke="#231f20" stroke-width="0.2" textLength="14.82" lengthAdjust="spacingAndGlyphs">5.8%</text>
<text x="469.6" y="119.75" font-size="7.4" fill="#231f20" text-anchor="start" font-weight="normal" stroke="#231f20" stroke-width="0.2" textLength="18.43" lengthAdjust="spacingAndGlyphs">Ex 15:</text>
<text x="490.2" y="119.75" font-size="7.4" fill="#231f20" text-anchor="start" font-weight="normal" stroke="#231f20" stroke-width="0.2" textLength="14.82" lengthAdjust="spacingAndGlyphs">1.3%</text>
<text x="361.2" y="13.80" font-size="7.4" fill="#231f20" text-anchor="start" font-weight="normal" stroke="#231f20" stroke-width="0.2" textLength="14.81" lengthAdjust="spacingAndGlyphs">Ex 4:</text>
<text x="380.8" y="13.80" font-size="7.4" fill="#231f20" text-anchor="start" font-weight="normal" stroke="#231f20" stroke-width="0.2" textLength="18.43" lengthAdjust="spacingAndGlyphs">62.5%</text>
<text x="361.2" y="21.90" font-size="7.4" fill="#231f20" text-anchor="start" font-weight="normal" stroke="#231f20" stroke-width="0.2" textLength="14.81" lengthAdjust="spacingAndGlyphs">Ex 8:</text>
<text x="380.8" y="21.90" font-size="7.4" fill="#231f20" text-anchor="start" font-weight="normal" stroke="#231f20" stroke-width="0.2" textLength="18.43" lengthAdjust="spacingAndGlyphs">12.5%</text>
<text x="361.2" y="30.00" font-size="7.4" fill="#231f20" text-anchor="start" font-weight="normal" stroke="#231f20" stroke-width="0.2" textLength="18.43" lengthAdjust="spacingAndGlyphs">Ex 10:</text>
<text x="380.8" y="30.00" font-size="7.4" fill="#231f20" text-anchor="start" font-weight="normal" stroke="#231f20" stroke-width="0.2" textLength="18.43" lengthAdjust="spacingAndGlyphs">12.5%</text>
<text x="361.2" y="38.10" font-size="7.4" fill="#231f20" text-anchor="start" font-weight="normal" stroke="#231f20" stroke-width="0.2" textLength="18.43" lengthAdjust="spacingAndGlyphs">Ex 15:</text>
<text x="380.8" y="38.10" font-size="7.4" fill="#231f20" text-anchor="start" font-weight="normal" stroke="#231f20" stroke-width="0.2" textLength="18.43" lengthAdjust="spacingAndGlyphs">12.5%</text>
<text x="304.1" y="242.60" font-size="7.4" fill="#231f20" text-anchor="start" font-weight="normal" stroke="#231f20" stroke-width="0.2" textLength="14.81" lengthAdjust="spacingAndGlyphs">Ex 4:</text>
<text x="326.2" y="242.60" font-size="7.4" fill="#231f20" text-anchor="start" font-weight="normal" stroke="#231f20" stroke-width="0.2" textLength="18.43" lengthAdjust="spacingAndGlyphs">70.3%</text>
<text x="304.1" y="250.75" font-size="7.4" fill="#231f20" text-anchor="start" font-weight="normal" stroke="#231f20" stroke-width="0.2" textLength="14.81" lengthAdjust="spacingAndGlyphs">Ex 5:</text>
<text x="326.2" y="250.75" font-size="7.4" fill="#231f20" text-anchor="start" font-weight="normal" stroke="#231f20" stroke-width="0.2" textLength="14.82" lengthAdjust="spacingAndGlyphs">7.1%</text>
<text x="304.1" y="258.90" font-size="7.4" fill="#231f20" text-anchor="start" font-weight="normal" stroke="#231f20" stroke-width="0.2" textLength="14.81" lengthAdjust="spacingAndGlyphs">Ex 7:</text>
<text x="326.2" y="258.90" font-size="7.4" fill="#231f20" text-anchor="start" font-weight="normal" stroke="#231f20" stroke-width="0.2" textLength="14.82" lengthAdjust="spacingAndGlyphs">3.6%</text>
<text x="304.1" y="267.05" font-size="7.4" fill="#231f20" text-anchor="start" font-weight="normal" stroke="#231f20" stroke-width="0.2" textLength="14.81" lengthAdjust="spacingAndGlyphs">Ex 8:</text>
<text x="326.2" y="267.05" font-size="7.4" fill="#231f20" text-anchor="start" font-weight="normal" stroke="#231f20" stroke-width="0.2" textLength="9.39" lengthAdjust="spacingAndGlyphs">3%</text>
<text x="304.1" y="275.20" font-size="7.4" fill="#231f20" text-anchor="start" font-weight="normal" stroke="#231f20" stroke-width="0.2" textLength="14.81" lengthAdjust="spacingAndGlyphs">Ex 8:</text>
<text x="326.2" y="275.20" font-size="7.4" fill="#231f20" text-anchor="start" font-weight="normal" stroke="#231f20" stroke-width="0.2" textLength="14.82" lengthAdjust="spacingAndGlyphs">7.1%</text>
<text x="304.1" y="283.35" font-size="7.4" fill="#231f20" text-anchor="start" font-weight="normal" stroke="#231f20" stroke-width="0.2" textLength="18.43" lengthAdjust="spacingAndGlyphs">Ex 10:</text>
<text x="326.2" y="283.35" font-size="7.4" fill="#231f20" text-anchor="start" font-weight="normal" stroke="#231f20" stroke-width="0.2" textLength="14.82" lengthAdjust="spacingAndGlyphs">1.2%</text>
<text x="304.1" y="291.50" font-size="7.4" fill="#231f20" text-anchor="start" font-weight="normal" stroke="#231f20" stroke-width="0.2" textLength="18.43" lengthAdjust="spacingAndGlyphs">Ex 12:</text>
<text x="326.2" y="291.50" font-size="7.4" fill="#231f20" text-anchor="start" font-weight="normal" stroke="#231f20" stroke-width="0.2" textLength="14.82" lengthAdjust="spacingAndGlyphs">2.4%</text>
<text x="304.1" y="299.65" font-size="7.4" fill="#231f20" text-anchor="start" font-weight="normal" stroke="#231f20" stroke-width="0.2" textLength="18.43" lengthAdjust="spacingAndGlyphs">Ex 13:</text>
<text x="326.2" y="299.65" font-size="7.4" fill="#231f20" text-anchor="start" font-weight="normal" stroke="#231f20" stroke-width="0.2" textLength="9.39" lengthAdjust="spacingAndGlyphs">6%</text>
<text x="472.1" y="229.60" font-size="7.4" fill="#231f20" text-anchor="start" font-weight="normal" stroke="#231f20" stroke-width="0.2" textLength="14.81" lengthAdjust="spacingAndGlyphs">Ex 2:</text>
<text x="493.5" y="229.60" font-size="7.4" fill="#231f20" text-anchor="start" font-weight="normal" stroke="#231f20" stroke-width="0.2" textLength="14.82" lengthAdjust="spacingAndGlyphs">2.6%</text>
<text x="472.1" y="237.76" font-size="7.4" fill="#231f20" text-anchor="start" font-weight="normal" stroke="#231f20" stroke-width="0.2" textLength="14.81" lengthAdjust="spacingAndGlyphs">Ex 4:</text>
<text x="493.5" y="237.76" font-size="7.4" fill="#231f20" text-anchor="start" font-weight="normal" stroke="#231f20" stroke-width="0.2" textLength="18.43" lengthAdjust="spacingAndGlyphs">55.3%</text>
<text x="472.1" y="245.92" font-size="7.4" fill="#231f20" text-anchor="start" font-weight="normal" stroke="#231f20" stroke-width="0.2" textLength="14.81" lengthAdjust="spacingAndGlyphs">Ex 5:</text>
<text x="493.5" y="245.92" font-size="7.4" fill="#231f20" text-anchor="start" font-weight="normal" stroke="#231f20" stroke-width="0.2" textLength="14.82" lengthAdjust="spacingAndGlyphs">2.6%</text>
<text x="472.1" y="254.08" font-size="7.4" fill="#231f20" text-anchor="start" font-weight="normal" stroke="#231f20" stroke-width="0.2" textLength="14.81" lengthAdjust="spacingAndGlyphs">Ex 7:</text>
<text x="493.5" y="254.08" font-size="7.4" fill="#231f20" text-anchor="start" font-weight="normal" stroke="#231f20" stroke-width="0.2" textLength="18.43" lengthAdjust="spacingAndGlyphs">21.1%</text>
<text x="472.1" y="262.24" font-size="7.4" fill="#231f20" text-anchor="start" font-weight="normal" stroke="#231f20" stroke-width="0.2" textLength="18.43" lengthAdjust="spacingAndGlyphs">Ex 10:</text>
<text x="493.5" y="262.24" font-size="7.4" fill="#231f20" text-anchor="start" font-weight="normal" stroke="#231f20" stroke-width="0.2" textLength="14.82" lengthAdjust="spacingAndGlyphs">2.6%</text>
<text x="472.1" y="270.40" font-size="7.4" fill="#231f20" text-anchor="start" font-weight="normal" stroke="#231f20" stroke-width="0.2" textLength="17.95" lengthAdjust="spacingAndGlyphs">Ex 11:</text>
<text x="493.5" y="270.40" font-size="7.4" fill="#231f20" text-anchor="start" font-weight="normal" stroke="#231f20" stroke-width="0.2" textLength="14.82" lengthAdjust="spacingAndGlyphs">2.6%</text>
<text x="472.1" y="278.56" font-size="7.4" fill="#231f20" text-anchor="start" font-weight="normal" stroke="#231f20" stroke-width="0.2" textLength="18.43" lengthAdjust="spacingAndGlyphs">Ex 12:</text>
<text x="493.5" y="278.56" font-size="7.4" fill="#231f20" text-anchor="start" font-weight="normal" stroke="#231f20" stroke-width="0.2" textLength="14.82" lengthAdjust="spacingAndGlyphs">2.6%</text>
<text x="472.1" y="286.72" font-size="7.4" fill="#231f20" text-anchor="start" font-weight="normal" stroke="#231f20" stroke-width="0.2" textLength="18.43" lengthAdjust="spacingAndGlyphs">Ex 13:</text>
<text x="493.5" y="286.72" font-size="7.4" fill="#231f20" text-anchor="start" font-weight="normal" stroke="#231f20" stroke-width="0.2" textLength="18.43" lengthAdjust="spacingAndGlyphs">13.2%</text>
<text x="385.0" y="206.6" font-size="7.4" fill="#231f20" text-anchor="start" font-weight="normal" stroke="#231f20" stroke-width="0.2" textLength="33.8" lengthAdjust="spacingAndGlyphs">Ex 4: 100%</text>
<rect x="360.8" y="143.40" width="6.5" height="6.6" fill="#c8102e"/>
<text x="371.1" y="150.00" font-size="8.3" fill="#3a3a3c" text-anchor="start" font-weight="normal" stroke="#3a3a3c" stroke-width="0.2" textLength="56.1" lengthAdjust="spacingAndGlyphs">Myeloid tumors</text>
<rect x="360.8" y="154.90" width="6.5" height="6.6" fill="#39b54a"/>
<text x="371.1" y="161.50" font-size="8.3" fill="#3a3a3c" text-anchor="start" font-weight="normal" stroke="#3a3a3c" stroke-width="0.2" textLength="112.0" lengthAdjust="spacingAndGlyphs">Lymphoid plus myeloid tumors</text>
<rect x="360.8" y="166.40" width="6.5" height="6.6" fill="#13528a"/>
<text x="371.1" y="173.00" font-size="8.3" fill="#3a3a3c" text-anchor="start" font-weight="normal" stroke="#3a3a3c" stroke-width="0.2" textLength="63.0" lengthAdjust="spacingAndGlyphs">Lymphoid tumors</text>
<rect x="360.8" y="331.60" width="6.5" height="6.6" fill="#c8102e"/>
<text x="371.1" y="338.20" font-size="8.3" fill="#3a3a3c" text-anchor="start" font-weight="normal" stroke="#3a3a3c" stroke-width="0.2" textLength="56.1" lengthAdjust="spacingAndGlyphs">Myeloid tumors</text>
<rect x="360.8" y="343.10" width="6.5" height="6.6" fill="#39b54a"/>
<text x="371.1" y="349.70" font-size="8.3" fill="#3a3a3c" text-anchor="start" font-weight="normal" stroke="#3a3a3c" stroke-width="0.2" textLength="112.0" lengthAdjust="spacingAndGlyphs">Lymphoid plus myeloid tumors</text>
<rect x="360.8" y="354.60" width="6.5" height="6.6" fill="#13528a"/>
<text x="371.1" y="361.20" font-size="8.3" fill="#3a3a3c" text-anchor="start" font-weight="normal" stroke="#3a3a3c" stroke-width="0.2" textLength="63.0" lengthAdjust="spacingAndGlyphs">Lymphoid tumors</text>
</svg>
</body></html>
